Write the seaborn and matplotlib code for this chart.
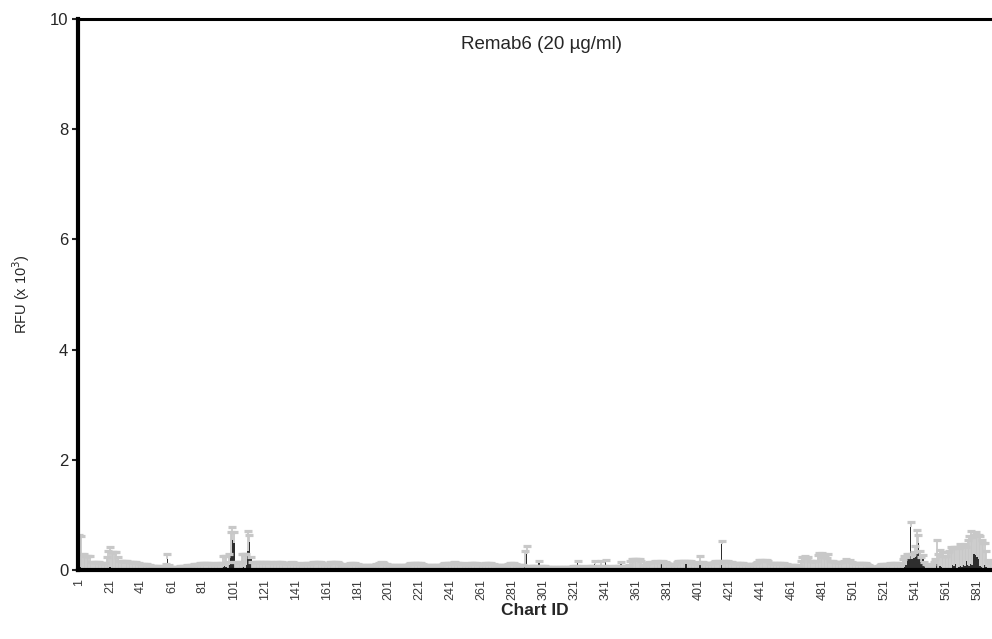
import numpy as np
import pandas as pd
import matplotlib
matplotlib.use("Agg")
import matplotlib.pyplot as plt
import seaborn as sns

# ---- data (Chart ID 1..590) ----
chart_ids = list(range(1, 591))

mean_rfu = [
    .05,.06,.04,.04,.03,.03,.03,.03,.03,.03,
    .03,.03,.03,.03,.03,.03,.03,.03,.04,.05,
    .06,.05,.05,.04,.04,.04,.03,.03,.03,.03,
    .03,.03,.03,.03,.03,.03,.03,.03,.03,.03,
    .03,.03,.03,.03,.03,.02,.02,.02,.02,.02,
    .02,.02,.02,.02,.02,.03,.05,.20,.04,.02,
    .02,.02,.02,.02,.02,.02,.02,.02,.02,.02,
    .02,.02,.02,.02,.02,.03,.03,.03,.03,.03,
    .03,.03,.03,.03,.03,.03,.03,.03,.03,.03,
    .03,.03,.03,.06,.08,.06,.05,.10,.30,.55,
    .50,.04,.04,.03,.03,.05,.06,.05,.10,.35,
    .51,.20,.04,.03,.03,.03,.03,.03,.03,.03,
    .03,.03,.03,.03,.03,.03,.03,.03,.03,.03,
    .03,.03,.03,.03,.03,.03,.03,.03,.03,.03,
    .03,.03,.03,.03,.03,.03,.03,.03,.03,.03,
    .03,.03,.03,.03,.03,.03,.03,.03,.03,.03,
    .03,.03,.03,.03,.03,.03,.03,.03,.03,.03,
    .03,.03,.03,.03,.03,.03,.03,.03,.03,.03,
    .03,.03,.03,.03,.03,.03,.03,.03,.03,.03,
    .03,.03,.03,.03,.03,.03,.03,.03,.03,.03,
    .03,.03,.03,.03,.03,.03,.03,.03,.03,.03,
    .03,.03,.03,.03,.03,.03,.03,.03,.03,.03,
    .03,.03,.03,.03,.03,.03,.03,.03,.03,.03,
    .03,.03,.03,.03,.03,.03,.03,.03,.03,.03,
    .03,.03,.03,.03,.03,.03,.03,.03,.03,.03,
    .03,.03,.03,.03,.03,.03,.03,.03,.03,.03,
    .03,.03,.03,.03,.03,.03,.03,.03,.03,.03,
    .03,.03,.03,.03,.03,.03,.03,.03,.03,.03,
    .03,.03,.03,.03,.03,.03,.03,.03,.10,.30,
    .03,.03,.03,.02,.02,.02,.02,.13,.02,.02,
    .02,.02,.02,.02,.02,.02,.02,.02,.02,.02,
    .02,.02,.02,.02,.02,.02,.02,.02,.02,.02,
    .02,.02,.13,.02,.02,.02,.02,.02,.02,.02,
    .02,.02,.02,.12,.02,.02,.02,.10,.02,.02,
    .15,.02,.02,.02,.02,.02,.02,.02,.02,.02,
    .12,.02,.02,.02,.02,.02,.03,.03,.03,.03,
    .03,.03,.03,.03,.02,.02,.02,.02,.03,.03,
    .03,.03,.03,.03,.03,.03,.14,.03,.03,.03,
    .03,.03,.03,.03,.03,.03,.03,.03,.03,.03,
    .03,.03,.12,.03,.03,.03,.03,.03,.03,.03,
    .03,.15,.03,.03,.03,.03,.03,.03,.03,.03,
    .03,.03,.03,.03,.04,.48,.03,.03,.03,.03,
    .03,.03,.03,.03,.03,.03,.03,.03,.03,.03,
    .03,.03,.03,.03,.03,.03,.03,.03,.03,.03,
    .03,.03,.03,.03,.03,.03,.03,.03,.03,.03,
    .03,.03,.03,.03,.03,.03,.03,.03,.03,.03,
    .03,.03,.03,.03,.03,.03,.03,.03,.03,.03,
    .03,.03,.03,.03,.03,.03,.03,.03,.03,.03,
    .03,.03,.03,.03,.03,.03,.03,.03,.03,.03,
    .03,.03,.03,.03,.03,.03,.03,.03,.03,.03,
    .03,.03,.03,.03,.03,.03,.03,.03,.03,.03,
    .02,.02,.02,.02,.02,.02,.02,.02,.03,.03,
    .03,.03,.03,.03,.03,.03,.03,.03,.03,.03,
    .03,.03,.04,.06,.10,.20,.22,.78,.20,.22,
    .25,.30,.50,.20,.15,.20,.10,.04,.03,.03,
    .03,.03,.05,.05,.15,.05,.08,.06,.05,.05,
    .04,.04,.03,.05,.10,.08,.12,.05,.06,.08,
    .06,.10,.08,.18,.10,.08,.12,.10,.30,.28,
    .25,.20,.08,.06,.05,.10,.06,.04,.04,.04,
]

sd_rfu = [
    .60,.56,.26,.26,.24,.24,.24,.24,.12,.12,
    .12,.12,.12,.12,.11,.11,.11,.11,.20,.30,
    .36,.28,.28,.29,.29,.20,.15,.15,.15,.15,
    .15,.15,.12,.12,.12,.12,.12,.12,.10,.10,
    .09,.09,.09,.08,.08,.08,.08,.07,.07,.07,
    .06,.06,.06,.05,.05,.06,.06,.10,.06,.05,
    .05,.05,.05,.05,.05,.06,.06,.06,.07,.07,
    .08,.08,.08,.08,.09,.09,.09,.09,.10,.10,
    .10,.10,.10,.10,.10,.10,.09,.09,.09,.10,
    .10,.10,.10,.21,.19,.21,.10,.20,.40,.23,
    .20,.11,.11,.12,.12,.25,.24,.24,.20,.36,
    .13,.05,.12,.12,.13,.13,.13,.13,.13,.13,
    .13,.13,.13,.12,.12,.11,.11,.12,.13,.13,
    .12,.12,.11,.10,.10,.10,.11,.12,.12,.11,
    .10,.10,.09,.09,.09,.10,.11,.11,.10,.09,
    .10,.12,.13,.13,.13,.12,.12,.10,.08,.08,
    .08,.09,.12,.13,.13,.12,.12,.12,.10,.08,
    .07,.07,.07,.08,.09,.11,.11,.11,.10,.09,
    .08,.07,.07,.07,.07,.07,.07,.07,.07,.07,
    .07,.07,.08,.09,.11,.12,.12,.11,.09,.08,
    .07,.07,.07,.07,.07,.07,.07,.07,.07,.07,
    .07,.07,.07,.09,.11,.11,.11,.11,.11,.11,
    .11,.10,.08,.07,.07,.07,.07,.07,.07,.07,
    .07,.07,.07,.07,.07,.08,.11,.11,.11,.11,
    .11,.11,.12,.12,.11,.11,.11,.10,.09,.08,
    .07,.08,.10,.11,.11,.11,.10,.10,.09,.08,
    .08,.09,.10,.10,.10,.10,.10,.09,.08,.07,
    .07,.07,.07,.07,.07,.07,.07,.09,.10,.10,
    .10,.10,.09,.07,.07,.07,.07,.07,.26,.15,
    .06,.06,.06,.06,.06,.06,.06,.05,.06,.06,
    .06,.06,.05,.05,.05,.05,.05,.05,.05,.05,
    .05,.05,.05,.05,.05,.05,.05,.05,.05,.06,
    .06,.07,.05,.06,.06,.05,.05,.05,.05,.06,
    .07,.07,.07,.06,.07,.07,.07,.07,.07,.07,
    .04,.06,.06,.05,.05,.05,.06,.07,.07,.07,
    .04,.07,.06,.06,.06,.08,.15,.17,.18,.18,
    .18,.18,.17,.15,.08,.08,.10,.12,.12,.13,
    .13,.13,.14,.14,.13,.13,.03,.14,.13,.12,
    .10,.08,.08,.08,.08,.08,.12,.14,.15,.15,
    .15,.15,.06,.15,.15,.14,.10,.10,.10,.11,
    .12,.12,.12,.12,.10,.10,.10,.10,.11,.11,
    .13,.14,.15,.14,.10,.05,.14,.15,.15,.14,
    .12,.12,.12,.11,.11,.11,.11,.10,.10,.10,
    .09,.09,.09,.09,.09,.09,.09,.10,.13,.16,
    .16,.16,.15,.16,.16,.14,.11,.10,.10,.10,
    .10,.10,.10,.10,.10,.10,.09,.08,.07,.07,
    .07,.07,.07,.07,.07,.06,.15,.22,.22,.23,
    .20,.22,.15,.15,.15,.15,.14,.25,.28,.22,
    .28,.26,.22,.20,.26,.14,.14,.14,.13,.13,
    .12,.12,.12,.12,.15,.18,.15,.14,.16,.12,
    .10,.10,.10,.10,.10,.10,.10,.10,.10,.09,
    .08,.06,.05,.05,.05,.05,.06,.08,.09,.09,
    .09,.09,.09,.08,.10,.11,.11,.11,.10,.08,
    .08,.10,.16,.20,.15,.10,.08,.09,.10,.12,
    .20,.43,.14,.15,.10,.08,.06,.07,.07,.07,
    .07,.08,.10,.15,.40,.25,.30,.20,.28,.22,
    .22,.30,.32,.38,.30,.35,.30,.38,.35,.40,
    .38,.35,.40,.25,.45,.55,.60,.50,.35,.42,
    .40,.45,.55,.50,.45,.40,.30,.15,.12,.10,
]

tick_ids = list(range(1, 582, 20))
y_ticks = [0, 2, 4, 6, 8, 10]
title_text = "Remab6 (20 \u00b5g/ml)"
x_label = "Chart ID"
y_label = "RFU (x 10$^{3}$)"

DARK = "#2e2e2e"
LIGHT = "#c8c8c8"

df = pd.DataFrame({"id": chart_ids, "mean": mean_rfu, "sd": sd_rfu})
df["upper"] = df["mean"] + df["sd"]

sns.set_style("white")
plt.rcParams["font.family"] = ["Liberation Sans", "DejaVu Sans"]

fig = plt.figure(figsize=(9.92, 6.39), dpi=100)
ax = fig.add_axes([0.0786, 0.1072, 0.9214, 0.8635])

sns.barplot(data=df, x="id", y="mean", color=DARK, saturation=1,
            width=1.0, linewidth=0, errorbar=None, ax=ax, zorder=2)

pos = np.arange(len(df))
ax.vlines(pos, df["mean"], df["upper"], colors=LIGHT, linewidth=1.3, zorder=3)
ax.plot(pos, df["upper"], linestyle="none", marker="_", markersize=6,
        markeredgewidth=2.3, color=LIGHT, zorder=3)

ax.set_xlim(-0.7, len(df) - 0.4)
ax.set_ylim(0, 10)
ax.set_yticks(y_ticks)
ax.set_yticklabels([str(v) for v in y_ticks], fontsize=12)
ax.set_xticks([chart_ids.index(t) for t in tick_ids])
ax.set_xticklabels([str(t) for t in tick_ids], rotation=90, fontsize=9, color="#3a3a3a")

ax.tick_params(axis="y", which="both", left=True, length=4, width=1.5, direction="out", pad=3)
ax.tick_params(axis="x", which="both", bottom=False, length=0, pad=6)

for side in ["left", "bottom"]:
    ax.spines[side].set_linewidth(3)
    ax.spines[side].set_color("black")
ax.spines["top"].set_linewidth(2.2)
ax.spines["top"].set_color("black")
ax.spines["right"].set_visible(False)
for s in ax.spines.values():
    s.set_zorder(5)

ax.set_xlabel(x_label, fontsize=12.5, fontweight="bold", labelpad=2)
ax.set_ylabel(y_label, fontsize=10.5, labelpad=13)
ax.text(0.507, 0.953, title_text, transform=ax.transAxes, ha="center", va="center", fontsize=13.5)

fig.savefig("out.png", dpi=100)
